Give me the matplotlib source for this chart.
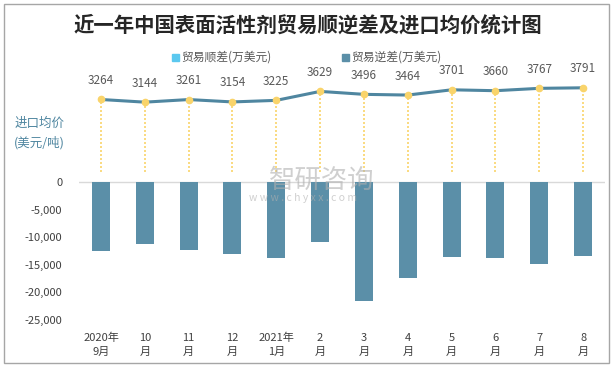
import numpy as np
import matplotlib.pyplot as plt
from matplotlib.patches import Rectangle

plt.rcParams['font.family'] = ['Noto Sans CJK SC', 'DejaVu Sans']
plt.rcParams['axes.unicode_minus'] = False

months = ["2020年\n9月", "10\n月", "11\n月", "12\n月", "2021年\n1月", "2\n月",
          "3\n月", "4\n月", "5\n月", "6\n月", "7\n月", "8\n月"]
deficit = [-12500, -11250, -12300, -13050, -13750, -10850,
           -21550, -17400, -13600, -13750, -14850, -13400]
price = [3264, 3144, 3261, 3154, 3225, 3629, 3496, 3464, 3701, 3660, 3767, 3791]

bar_color = "#5b8fa8"
surplus_color = "#5bc8ef"
line_color = "#4f86a0"
dot_color = "#f9d46b"

fig = plt.figure(figsize=(6.13, 3.70), dpi=100)
fig.patches.append(Rectangle((0.006, 0.018), 0.987, 0.972, transform=fig.transFigure,
                             fill=False, edgecolor="#a6a6a6", lw=1))

ax = fig.add_axes([0.129, 0.135, 0.858, 0.672])
x = np.arange(len(months))
ax.bar(x, deficit, width=0.41, color=bar_color, zorder=2)
ax.axhline(0, color="#d9d9d9", lw=1, zorder=1)
ax.set_xlim(-0.5, len(months) - 0.5)
ax.set_ylim(-25000, 20000)
ax.set_yticks([0, -5000, -10000, -15000, -20000, -25000])
ax.set_yticklabels(["0", "-5,000", "-10,000", "-15,000", "-20,000", "-25,000"])
ax.set_xticks(x)
ax.set_xticklabels(months, linespacing=1.55)
ax.tick_params(length=0, labelsize=8, colors="#404040")
ax.tick_params(axis="x", pad=9)
ax.tick_params(axis="y", pad=12)
for s in ax.spines.values():
    s.set_visible(False)

ax2 = ax.twinx()
ax2.set_ylim(-6680, 4530)
ax2.vlines(x, 0, price, colors=dot_color, linestyles=(0, (1.2, 1.2)), lw=1.2, zorder=1)
ax2.plot(x, price, color=line_color, lw=2.2, zorder=2)
ax2.plot(x, price, "o", color=dot_color, ms=4.5, zorder=3)
for xi, p in zip(x, price):
    ax2.annotate(str(p), (xi, p), xytext=(0, 9), textcoords="offset points",
                 ha="center", va="bottom", fontsize=8.5, color="#595959")
ax2.set_yticks([])
for s in ax2.spines.values():
    s.set_visible(False)

fig.text(0.502, 0.932, "近一年中国表面活性剂贸易顺逆差及进口均价统计图", ha="center", va="center",
         fontsize=14.7, fontweight="bold", color="#262626")

fig.patches.append(Rectangle((0.281, 0.835), 0.011, 0.019, transform=fig.transFigure,
                             color=surplus_color))
fig.text(0.296, 0.845, "贸易顺差(万美元)", fontsize=8.5, va="center", color="#595959")
fig.patches.append(Rectangle((0.558, 0.835), 0.011, 0.019, transform=fig.transFigure,
                             color=bar_color))
fig.text(0.573, 0.845, "贸易逆差(万美元)", fontsize=8.5, va="center", color="#595959")

fig.text(0.064, 0.64, "进口均价\n(美元/吨)", ha="center", va="center", fontsize=9,
         color="#4f86a0", linespacing=1.5)

fig.text(0.525, 0.513, "智研咨询", ha="center", va="center", fontsize=19,
         color="#b0b0b0", alpha=0.6)
fig.text(0.495, 0.465, "w w w . c h y x x . c o m", ha="center", va="center", fontsize=7.5,
         color="#b0b0b0", alpha=0.6)

fig.savefig("out.png", dpi=100)
